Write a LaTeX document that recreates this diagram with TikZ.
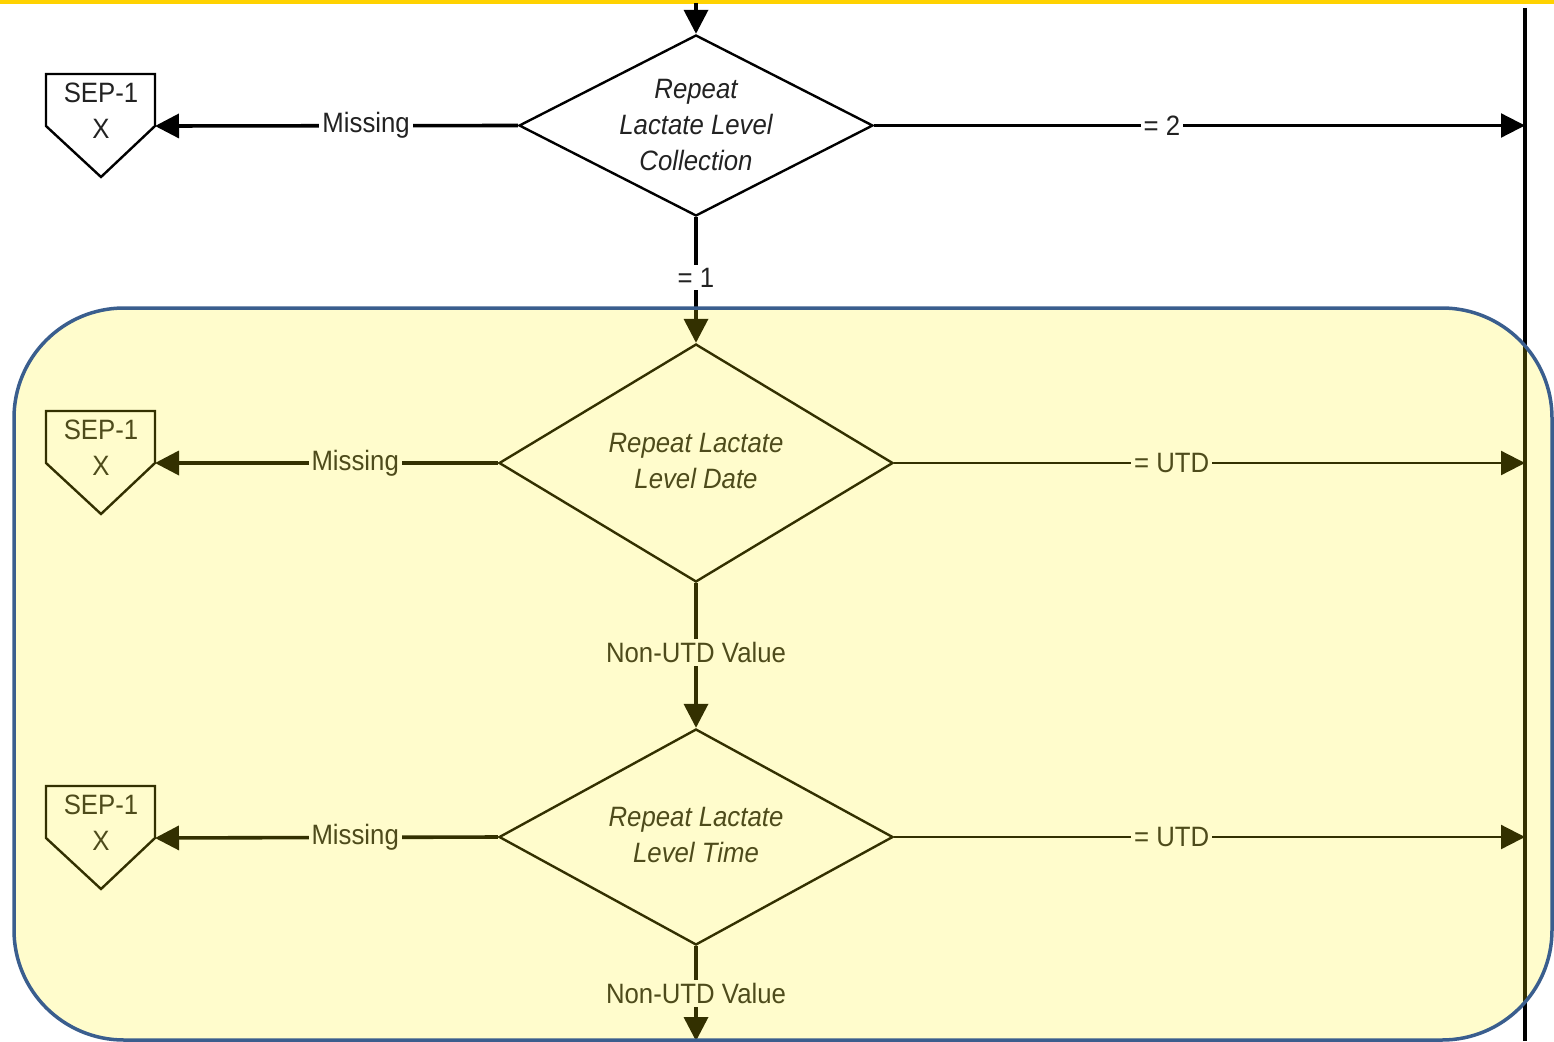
\documentclass[tikz,border=0pt]{standalone}
\usepackage{fontspec}
\setmainfont{Liberation Sans}[FakeStretch=0.92]
\usetikzlibrary{arrows.meta,shapes.geometric}

\definecolor{band}{RGB}{255,210,0}
\definecolor{frame}{RGB}{58,94,142}
\definecolor{txt}{RGB}{34,34,34}

% SEP-1 off-page connector: pentagon pointing down, with its entry corner
\newcommand\sepflag[2]{%
  \draw[flag] (46,#2) -- (155,#2) -- (155,#2+52) -- (101,#2+103) -- (46,#2+52) -- cycle;
  \node[txt node, align=center] (#1) at (101,#2+37) {SEP-1\\X};
  \coordinate (#1r) at (155,#2+52);}

\begin{document}
\begin{tikzpicture}[x=1pt,y=-1pt,
  every node/.style={font=\fontsize{28}{36}\selectfont},
  txt node/.style={text=txt, inner sep=0pt},
  dec/.style={diamond, draw, line width=2.4pt, inner sep=0pt},
  dectext/.style={text=txt, inner sep=0pt, align=center,
    font=\fontsize{28}{36}\selectfont\itshape},
  lbl/.style={fill=white, text=txt, inner xsep=3pt, inner ysep=3pt},
  flag/.style={line width=2.4pt, line join=miter},
  heavy/.style={line width=3.6pt, -{Triangle[length=24pt,width=24pt]}},
  light/.style={line width=2.2pt, -{Triangle[length=24pt,width=24pt]}},
]
\useasboundingbox (0,0) rectangle (1554,1041);
\fill[band] (0,0) rectangle (1554,4);

% decisions
\node[dec, minimum width=354pt, minimum height=181pt] (d1) at (696,125.5) {};
\node[dectext] (t1) at (d1) {Repeat\\Lactate Level\\Collection};
\node[dec, minimum width=394pt, minimum height=238pt] (d2) at (696,463) {};
\node[dectext] (t2) at (696,461) {Repeat Lactate\\Level Date};
\node[dec, minimum width=394pt, minimum height=216pt] (d3) at (696,837) {};
\node[dectext] (t3) at (696,835) {Repeat Lactate\\Level Time};

% SEP-1 exits
\sepflag{s1}{74}
\sepflag{s2}{411}
\sepflag{s3}{786}

% right-hand rail
\coordinate (railtop) at (1525,8);
\coordinate (railbot) at (1525,1041);
\draw[line width=3.6pt] (railtop) -- (railbot);
\coordinate (r1) at (1525,125.5);
\coordinate (r2) at (1525,463);
\coordinate (r3) at (1525,837);

% entry and exit of the main column
\coordinate (top) at (696,3);
\coordinate (bot) at (696,1041);
\draw[heavy] (top) -- (d1.north);
\draw[heavy] (d1.south) -- node[lbl, pos=0.48] {= 1} (d2.north);
\draw[heavy] (d2.south) -- node[lbl, pos=0.48] {Non-UTD Value} (d3.north);
\draw[heavy] (d3.south) -- node[lbl, pos=0.5] {Non-UTD Value} (bot);

% missing branches
\draw[heavy] (d1.west) -- node[lbl, pos=0.418] {Missing} (s1r);
\draw[heavy] (d2.west) -- node[lbl, pos=0.416] {Missing} (s2r);
\draw[heavy] (d3.west) -- node[lbl, pos=0.416] {Missing} (s3r);

% branches to the rail
\draw[light] (d1.east) -- node[lbl, pos=0.442] {= 2} (r1);
\draw[light] (d2.east) -- node[lbl, pos=0.44] {= UTD} (r2);
\draw[light] (d3.east) -- node[lbl, pos=0.44] {= UTD} (r3);

% highlighted group
\fill[yellow, opacity=0.2, rounded corners=110pt] (14,308) rectangle (1552,1040);
\draw[frame, line width=3.5pt, rounded corners=110pt] (14,308) rectangle (1552,1040);
\end{tikzpicture}
\end{document}
